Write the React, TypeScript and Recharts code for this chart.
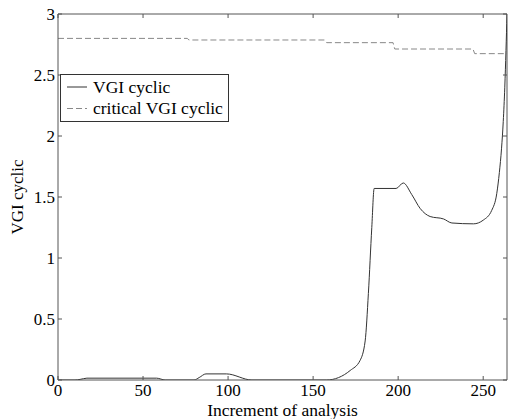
import React from 'react';
import { LineChart, Line, XAxis, YAxis, ReferenceLine, Legend } from 'recharts';

const xTicks = [0, 50, 100, 150, 200, 250];
const yTicks = [0, 0.5, 1, 1.5, 2, 2.5, 3];
const yTickLabels = ['0', '0.5', '1', '1.5', '2', '2.5', '3'];

const vgiX = [0, 10, 13, 17, 58, 63, 80, 83, 87, 99, 114, 158, 165, 171.8, 177.6, 180.6, 182.5, 184.5, 185.9, 198.8, 203, 208, 213, 218.8, 226.7, 231.6, 244.3, 250, 255, 258, 259.5, 260.8, 261.8, 262.7, 263.4, 264];
const vgiY = [0, 0, 0.005, 0.015, 0.015, 0, 0, 0.02, 0.05, 0.05, 0, 0, 0.02, 0.078, 0.16, 0.32, 0.71, 1.25, 1.57, 1.57, 1.615, 1.52, 1.405, 1.34, 1.32, 1.287, 1.28, 1.31, 1.39, 1.53, 1.7, 1.9, 2.12, 2.4, 2.7, 3];

const critX = [0, 76, 77, 157, 158, 197, 198, 244, 245, 264];
const critY = [2.8, 2.8, 2.787, 2.787, 2.765, 2.765, 2.713, 2.713, 2.675, 2.675];

const vgiData = vgiX.map((x, i) => ({ x, v: vgiY[i] }));
const critData = critX.map((x, i) => ({ x, c: critY[i] }));

const FONT = "'Liberation Serif'";
const FS = 17;
const AXIS = '#555';
const PLOT_TOP = 14;
const PLOT_RIGHT = 507;
const textStyle = { fontFamily: FONT, fontSize: FS };

const BottomTick = (props: any) => {
  const { x, y, payload } = props;
  return (
    <g>
      <line x1={x} y1={y} x2={x} y2={y - 4} stroke={AXIS} />
      <line x1={x} y1={PLOT_TOP} x2={x} y2={PLOT_TOP + 4} stroke={AXIS} />
      <text x={x} y={y + 16} textAnchor="middle" style={textStyle} fill="#000">
        {payload.value}
      </text>
    </g>
  );
};

const LeftTick = (props: any) => {
  const { x, y, payload, index } = props;
  return (
    <g>
      <line x1={x} y1={y} x2={x + 4} y2={y} stroke={AXIS} />
      <line x1={PLOT_RIGHT} y1={y} x2={PLOT_RIGHT - 4} y2={y} stroke={AXIS} />
      <text x={x - 3} y={y + 6} textAnchor="end" style={textStyle} fill="#000">
        {yTickLabels[index] ?? payload.value}
      </text>
    </g>
  );
};

const LegendBox = () => (
  <svg width={169} height={48} style={{ display: 'block' }}>
    <rect x={0.5} y={0.5} width={168} height={47} fill="#fff" stroke="#333" />
    <line x1={7} y1={13} x2={27} y2={13} stroke="#333" />
    <text x={33} y={19} style={{ ...textStyle, fontSize: 17.5 }} fill="#000">VGI cyclic</text>
    <line x1={7} y1={34.5} x2={27} y2={34.5} stroke="#888" strokeDasharray="6 3" />
    <text x={33} y={40} style={{ ...textStyle, fontSize: 17.5 }} fill="#000">critical VGI cyclic</text>
  </svg>
);

export default function App() {
  return (
    <div style={{ position: 'absolute', left: 0, top: 0, background: '#fff', fontFamily: FONT }}>
      <LineChart width={508} height={419} margin={{ top: PLOT_TOP, right: 1, bottom: 0, left: 0 }} style={{ fontFamily: FONT }}>
        <XAxis
          dataKey="x"
          type="number"
          domain={[0, 264]}
          ticks={xTicks}
          allowDataOverflow
          height={39}
          tickSize={0}
          tickMargin={0}
          tick={<BottomTick />}
          stroke={AXIS}
          label={{ value: 'Increment of analysis', position: 'insideBottom', offset: 3, fill: '#000', style: { ...textStyle, fontSize: 17.5 } }}
        />
        <YAxis
          type="number"
          domain={[0, 3]}
          ticks={yTicks}
          allowDataOverflow
          width={58}
          tickSize={0}
          tickMargin={0}
          tick={<LeftTick />}
          stroke={AXIS}
          label={{ value: 'VGI cyclic', angle: -90, position: 'insideLeft', offset: 17, fill: '#000', style: { ...textStyle, textAnchor: 'middle' } }}
        />
        <ReferenceLine y={3} stroke={AXIS} ifOverflow="extendDomain" />
        <ReferenceLine x={264} stroke={AXIS} ifOverflow="extendDomain" />
        <Legend
          layout="vertical"
          align="center"
          verticalAlign="middle"
          content={<LegendBox />}
          wrapperStyle={{ left: 60, top: 74, width: 169, height: 48 }}
        />
        <Line
          data={critData}
          dataKey="c"
          type="linear"
          stroke="#888"
          strokeWidth={1}
          strokeDasharray="6 3"
          dot={false}
          activeDot={false}
          isAnimationActive={false}
        />
        <Line
          data={vgiData}
          dataKey="v"
          type="monotone"
          stroke="#333"
          strokeWidth={1}
          dot={false}
          activeDot={false}
          isAnimationActive={false}
        />
      </LineChart>
    </div>
  );
}
